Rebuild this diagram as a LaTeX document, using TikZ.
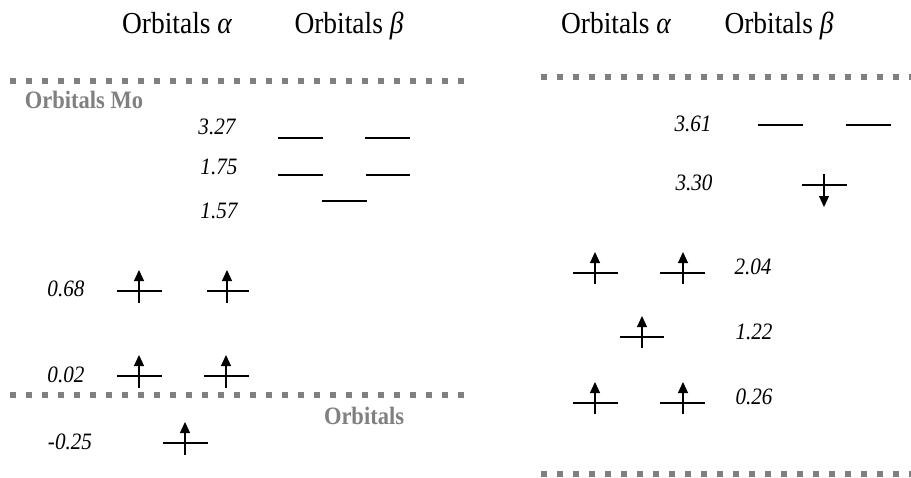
\documentclass[tikz,border=0pt]{standalone}
\usepackage{fontspec}
\setmainfont{Liberation Serif}
\newfontfamily\narrowfont[FakeStretch=0.9]{Liberation Serif}
\usetikzlibrary{arrows.meta}

\definecolor{dotgray}{HTML}{808080}

\tikzset{
  level/.style={line width=1.8pt},
  spin/.style={line width=1.1pt, -{Triangle[width=10pt,length=11pt]}},
  dotline/.style={dotgray, line width=5.5pt, dash pattern=on 6pt off 10pt},
  energy/.style={font=\narrowfont\fontsize{23.5}{26}\selectfont\itshape,
    text height=0.68em, text depth=0pt, yshift=-3pt},
  header/.style={font=\narrowfont\fontsize{30.5}{34}\selectfont,
    text height=0.7em, text depth=0.25em},
  region/.style={dotgray, font=\narrowfont\fontsize{25}{28}\selectfont\bfseries,
    text height=0.68em, text depth=0pt, yshift=-3pt}
}

\begin{document}
\begin{tikzpicture}[x=1pt, y=-1pt, line cap=butt]
\useasboundingbox (0,0) rectangle (911,477);

% En-tetes
\node[header] (ha1) at (177,31) {Orbitals {\itshape α}};
\node[header] (hb1) at (349,31) {Orbitals {\itshape β}};
\node[header] (ha2) at (616,31) {Orbitals {\itshape α}};
\node[header] (hb2) at (779,31) {Orbitals {\itshape β}};

% Lignes pointillees
\draw[dotline] (10,81) -- (472,81);
\draw[dotline] (10,395) -- (472,395);
\draw[dotline] (541,77) -- (911,77);
\draw[dotline] (541,474) -- (911,474);

\node[region] (mo) at (84,102) {Orbitals Mo};
\node[region] (orb) at (364,418) {Orbitals};

% Niveaux, gauche
\node[energy] (e327) at (217,128) {3.27};
\draw[level] (278,138) -- (323,138);
\draw[level] (365,138) -- (410,138);

\node[energy] (e175) at (219,168) {1.75};
\draw[level] (278,175) -- (323,175);
\draw[level] (366,175) -- (410,175);

\node[energy] (e157) at (219,212) {1.57};
\draw[level] (322,201) -- (367,201);

\node[energy] (e068) at (66,290) {0.68};
\draw[level] (117,291) -- (162,291);
\draw[spin] (139,303) -- (139,270);
\draw[level] (207,291) -- (249,291);
\draw[spin] (227,303) -- (227,270);

\node[energy] (e002) at (66,376) {0.02};
\draw[level] (117,376) -- (162,376);
\draw[spin] (139,388) -- (139,355);
\draw[level] (204,376) -- (249,376);
\draw[spin] (226,388) -- (226,355);

\node[energy] (e025) at (70,443) {-0.25};
\draw[level] (163,443) -- (208,443);
\draw[spin] (185,455) -- (185,422);

% Niveaux, droite
\node[energy] (e361) at (693,125) {3.61};
\draw[level] (758,125) -- (803,125);
\draw[level] (846,125) -- (891,125);

\node[energy] (e330) at (694,184) {3.30};
\draw[level] (802,185) -- (847,185);
\draw[spin] (824,174) -- (824,207);

\node[energy] (e204) at (753,268) {2.04};
\draw[level] (573,273) -- (618,273);
\draw[spin] (595,284) -- (595,252);
\draw[level] (660,273) -- (705,273);
\draw[spin] (683,284) -- (683,252);

\node[energy] (e122) at (754,333) {1.22};
\draw[level] (620,337) -- (664,337);
\draw[spin] (642,348) -- (642,316);

\node[energy] (e026) at (754,398) {0.26};
\draw[level] (573,403) -- (618,403);
\draw[spin] (595,414) -- (595,382);
\draw[level] (660,403) -- (705,403);
\draw[spin] (683,414) -- (683,382);

\end{tikzpicture}
\end{document}
